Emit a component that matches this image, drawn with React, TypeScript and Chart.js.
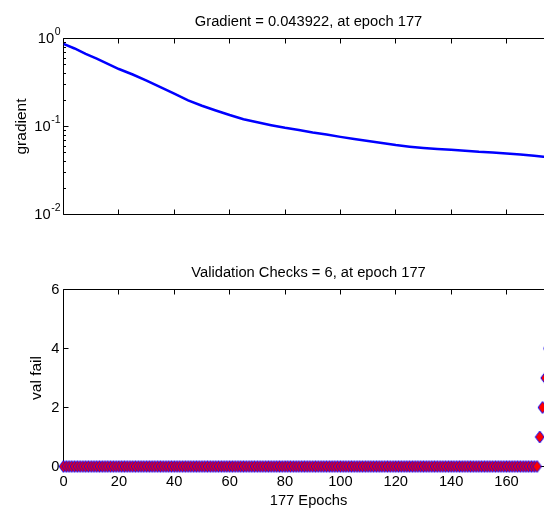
import React, { useEffect, useRef } from "react";
import { Chart, registerables } from "chart.js";
Chart.register(...registerables);

// ---------- data ----------
const gradTitle = "Gradient = 0.043922, at epoch 177";
const valTitle = "Validation Checks = 6, at epoch 177";
const gradYLabel = "gradient";
const valYLabel = "val fail";
const xLabel = "177 Epochs";

const epochMax = 177;
const gradEpochs = [0, 4, 8, 12, 16, 20, 25, 30, 35, 40, 45, 50, 55, 60, 65, 70, 75, 80, 85, 90, 95, 100, 105, 110, 115, 120, 125, 130, 135, 140, 145, 150, 155, 160, 165, 170, 175, 177];
const gradValues = [0.87, 0.77, 0.67, 0.59, 0.515, 0.45, 0.39, 0.333, 0.28, 0.236, 0.198, 0.172, 0.152, 0.135, 0.121, 0.1115, 0.1035, 0.0966, 0.091, 0.0855, 0.081, 0.0762, 0.072, 0.0685, 0.065, 0.0615, 0.059, 0.057, 0.0555, 0.0543, 0.053, 0.0515, 0.0505, 0.0493, 0.048, 0.0464, 0.0448, 0.043922];

const valFail = [
  0, 0, 0, 0, 0, 0, 0, 0, 0, 0, 0, 0, 0, 0, 0, 0, 0, 0, 0, 0,
  0, 0, 0, 0, 0, 0, 0, 0, 0, 0, 0, 0, 0, 0, 0, 0, 0, 0, 0, 0,
  0, 0, 0, 0, 0, 0, 0, 0, 0, 0, 0, 0, 0, 0, 0, 0, 0, 0, 0, 0,
  0, 0, 0, 0, 0, 0, 0, 0, 0, 0, 0, 0, 0, 0, 0, 0, 0, 0, 0, 0,
  0, 0, 0, 0, 0, 0, 0, 0, 0, 0, 0, 0, 0, 0, 0, 0, 0, 0, 0, 0,
  0, 0, 0, 0, 0, 0, 0, 0, 0, 0, 0, 0, 0, 0, 0, 0, 0, 0, 0, 0,
  0, 0, 0, 0, 0, 0, 0, 0, 0, 0, 0, 0, 0, 0, 0, 0, 0, 0, 0, 0,
  0, 0, 0, 0, 0, 0, 0, 0, 0, 0, 0, 0, 0, 0, 0, 0, 0, 0, 0, 0,
  0, 0, 0, 0, 0, 0, 0, 0, 0, 0, 0, 0,
  1, 2, 3, 4, 5, 6,
];

const xTicks = [0, 20, 40, 60, 80, 100, 120, 140, 160];
const valTicks = [0, 2, 4, 6];
const logTicks = [1, 0.1, 0.01];
const logExps = ["0", "-1", "-2"];
const logMinor = [0.02, 0.03, 0.04, 0.05, 0.06, 0.07, 0.08, 0.09, 0.2, 0.3, 0.4, 0.5, 0.6, 0.7, 0.8, 0.9];

const FONT = '"Liberation Sans", Arial, Helvetica, sans-serif';
const W = 616;
const H1 = 240;
const H2 = 268;

function frame(chart: any, xt: number[], yt: number[], yMinor: number[]) {
  const { ctx, chartArea: a, scales } = chart;
  ctx.save();
  ctx.strokeStyle = "#000";
  ctx.lineWidth = 1;
  ctx.beginPath();
  ctx.moveTo(a.left, a.bottom);
  ctx.lineTo(a.left, a.top);
  ctx.lineTo(a.right, a.top);
  ctx.lineTo(a.right, a.bottom);
  ctx.closePath();
  ctx.stroke();
  ctx.beginPath();
  for (const t of xt) {
    const px = Math.floor(scales.x.getPixelForValue(t)) + 0.5;
    ctx.moveTo(px, a.top);
    ctx.lineTo(px, a.top + 5);
    ctx.moveTo(px, a.bottom);
    ctx.lineTo(px, a.bottom - 5);
  }
  for (const t of yt) {
    const py = Math.floor(scales.y.getPixelForValue(t)) + 0.5;
    ctx.moveTo(a.left, py);
    ctx.lineTo(a.left + 5, py);
    ctx.moveTo(a.right, py);
    ctx.lineTo(a.right - 5, py);
  }
  for (const t of yMinor) {
    const py = Math.floor(scales.y.getPixelForValue(t)) + 0.5;
    ctx.moveTo(a.left, py);
    ctx.lineTo(a.left + 2.5, py);
    ctx.moveTo(a.right, py);
    ctx.lineTo(a.right - 2.5, py);
  }
  ctx.stroke();
  ctx.restore();
}

function vText(ctx: CanvasRenderingContext2D, text: string, x: number, y: number, size: number) {
  ctx.save();
  ctx.translate(x, y);
  ctx.rotate(-Math.PI / 2);
  ctx.font = `${size}px ${FONT}`;
  ctx.fillStyle = "#000";
  ctx.textAlign = "center";
  ctx.textBaseline = "alphabetic";
  ctx.fillText(text, 0, 0);
  ctx.restore();
}

export default function App() {
  const topRef = useRef<HTMLCanvasElement | null>(null);
  const botRef = useRef<HTMLCanvasElement | null>(null);

  useEffect(() => {
    const diamond = document.createElement("canvas");
    diamond.width = 11;
    diamond.height = 14;
    const g = diamond.getContext("2d")!;
    g.beginPath();
    g.moveTo(5.5, 1);
    g.lineTo(10, 7);
    g.lineTo(5.5, 13);
    g.lineTo(1, 7);
    g.closePath();
    g.fillStyle = "#ff0000";
    g.fill();
    g.strokeStyle = "#0000ff";
    g.lineWidth = 1;
    g.stroke();

    const topPlugin = {
      id: "topDeco",
      beforeDatasetsDraw(chart: any) {
        frame(chart, xTicks, logTicks, logMinor);
      },
      afterDraw(chart: any) {
        const { ctx, chartArea: a, scales } = chart;
        ctx.save();
        ctx.fillStyle = "#000";
        ctx.font = `14.7px ${FONT}`;
        ctx.textAlign = "center";
        ctx.textBaseline = "alphabetic";
        ctx.fillText(gradTitle, (a.left + a.right) / 2, a.top - 12.2);
        logTicks.forEach((v, i) => {
          const py = scales.y.getPixelForValue(v);
          ctx.font = `10.5px ${FONT}`;
          const ew = ctx.measureText(logExps[i]).width;
          ctx.font = `14.7px ${FONT}`;
          const bw = ctx.measureText("10").width;
          const right = 60.5;
          ctx.textAlign = "left";
          ctx.textBaseline = "middle";
          ctx.fillText("10", right - ew - bw - 0.5, py + 0.5);
          ctx.font = `10.5px ${FONT}`;
          ctx.textBaseline = "alphabetic";
          ctx.fillText(logExps[i], right - ew, py - 3.5);
        });
        ctx.restore();
        vText(ctx, gradYLabel, 26.4, (a.top + a.bottom) / 2, 15.5);
      },
    };

    const botPlugin = {
      id: "botDeco",
      beforeDatasetsDraw(chart: any) {
        frame(chart, xTicks, valTicks, []);
      },
      afterDraw(chart: any) {
        const { ctx, chartArea: a, scales } = chart;
        ctx.save();
        ctx.fillStyle = "#000";
        ctx.font = `14.7px ${FONT}`;
        ctx.textAlign = "center";
        ctx.textBaseline = "alphabetic";
        ctx.fillText(valTitle, (a.left + a.right) / 2, a.top - 12.2);
        for (const t of xTicks) {
          ctx.fillText(String(t), scales.x.getPixelForValue(t), a.bottom + 19.2);
        }
        ctx.fillText(xLabel, (a.left + a.right) / 2, a.bottom + 38.5);
        ctx.textAlign = "right";
        ctx.textBaseline = "middle";
        for (const t of valTicks) {
          ctx.fillText(String(t), 59.5, scales.y.getPixelForValue(t) + 0.5);
        }
        ctx.restore();
        vText(ctx, valYLabel, 40.7, (a.top + a.bottom) / 2, 15.5);
      },
    };

    const common = (pad: any) => ({
      animation: false as const,
      responsive: false,
      events: [] as any[],
      layout: { autoPadding: false, padding: pad },
      plugins: { legend: { display: false }, tooltip: { enabled: false }, title: { display: false } },
    });

    const c1 = new Chart(topRef.current!, {
      type: "line",
      data: {
        datasets: [
          {
            data: gradEpochs.map((x, i) => ({ x, y: gradValues[i] })),
            borderColor: "#0000ff",
            borderWidth: 2.5,
            pointRadius: 0,
            tension: 0,
            fill: false,
          },
        ],
      },
      options: {
        ...common({ left: 63.5, right: W - 553.6, top: 38.5, bottom: H1 - 214.5 }),
        scales: {
          x: { type: "linear", min: 0, max: epochMax, display: false },
          y: { type: "logarithmic", min: 0.01, max: 1, display: false },
        },
      } as any,
      plugins: [topPlugin],
    });

    const c2 = new Chart(botRef.current!, {
      type: "scatter",
      data: {
        datasets: [
          {
            data: valFail.map((v, i) => ({ x: i, y: v })),
            pointStyle: diamond as any,
            showLine: false,
            clip: false as any,
          },
        ],
      },
      options: {
        ...common({ left: 63.5, right: W - 553.6, top: 289.5 - H1, bottom: H1 + H2 - 466.5 }),
        scales: {
          x: { type: "linear", min: 0, max: epochMax, display: false },
          y: { type: "linear", min: 0, max: 6, display: false },
        },
      } as any,
      plugins: [botPlugin],
    });

    return () => {
      c1.destroy();
      c2.destroy();
    };
  }, []);

  return (
    <div style={{ position: "fixed", left: 0, top: 0, width: 544, height: 508, overflow: "hidden", background: "#fff" }}>
      <canvas ref={topRef} width={W} height={H1} style={{ position: "absolute", left: 0, top: 0, width: W, height: H1 }} />
      <canvas ref={botRef} width={W} height={H2} style={{ position: "absolute", left: 0, top: H1, width: W, height: H2 }} />
    </div>
  );
}
